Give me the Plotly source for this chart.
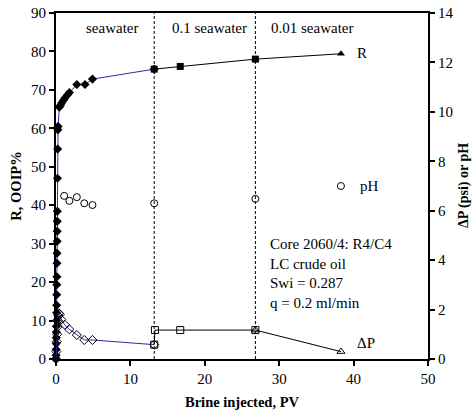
import plotly.graph_objects as go

# ---- data ----
# Recovery R (% OOIP), seawater flood
r_sw_x = [0, 0.01, 0.02, 0.03, 0.04, 0.05, 0.06, 0.07, 0.08, 0.09, 0.10, 0.11, 0.12,
          0.13, 0.14, 0.15, 0.16, 0.17, 0.18, 0.20, 0.22, 0.25, 0.28,
          0.45, 0.6, 0.76, 1.0, 1.2, 1.5, 1.8, 2.8, 3.9, 4.9, 13.2]
r_sw_y = [0, 1, 2.5, 4, 5.5, 7, 8.5, 10, 12, 14, 16.7, 19.3, 21.4,
          24.9, 27.5, 30.6, 33.2, 35.8, 38.4, 47.0, 54.6, 59.6, 60.5,
          65.5, 66.0, 66.6, 67.3, 67.9, 68.6, 69.3, 71.4, 71.4, 72.8, 75.4]
# Recovery, 0.1 seawater
r_01_x = [13.2, 16.7, 26.8]
r_01_y = [75.4, 76.1, 78.0]
# Recovery, 0.01 seawater
r_001_x = [26.8, 38.3]
r_001_y = [78.0, 79.4]

# pH
ph_x = [1.1, 1.8, 2.8, 3.8, 4.9, 13.2, 26.8, 38.3]
ph_y = [6.6, 6.4, 6.55, 6.3, 6.23, 6.3, 6.48, 7.0]

# Differential pressure (psi)
dp_sw_x = [0, 0.05, 0.1, 0.15, 0.2, 0.25, 0.3, 0.4, 0.5, 0.7, 1.2, 1.8, 2.8, 3.8, 4.9, 13.2]
dp_sw_y = [0, 0.3, 0.7, 1.0, 1.3, 1.55, 1.75, 1.85, 1.8, 1.6, 1.38, 1.2, 0.97, 0.77, 0.77, 0.58]
dp_01_x = [13.2, 13.3, 16.7, 26.8]
dp_01_y = [0.58, 1.17, 1.17, 1.17]
dp_001_x = [26.8, 38.3]
dp_001_y = [1.17, 0.3]

# brine switch boundaries and stage labels
switch_pv = [13.2, 26.8]
stage_labels = ["seawater", "0.1 seawater", "0.01 seawater"]
stage_label_x = [7.5, 20.6, 34.4]

x_ticks = [0, 10, 20, 30, 40, 50]
y_ticks = [0, 10, 20, 30, 40, 50, 60, 70, 80, 90]
y2_ticks = [0, 2, 4, 6, 8, 10, 12, 14]

info_lines = ["Core 2060/4: R4/C4", "LC crude oil", "Swi = 0.287", "q = 0.2 ml/min"]

FONT = "Liberation Serif, Times New Roman, serif"
BLUE = "#2a2ab0"
MS = 7

fig = go.Figure()

fig.add_trace(go.Scatter(x=r_sw_x, y=r_sw_y, mode="lines+markers",
                         line=dict(color=BLUE, width=1),
                         marker=dict(symbol="diamond", size=MS, color="black"),
                         cliponaxis=False, showlegend=False))
fig.add_trace(go.Scatter(x=r_01_x, y=r_01_y, mode="lines+markers",
                         line=dict(color="black", width=1),
                         marker=dict(symbol="square", size=MS, color="black"),
                         cliponaxis=False, showlegend=False))
fig.add_trace(go.Scatter(x=r_001_x, y=r_001_y, mode="lines+markers",
                         line=dict(color="black", width=1),
                         marker=dict(symbol="triangle-up", size=MS, color="black"),
                         cliponaxis=False, showlegend=False))

fig.add_trace(go.Scatter(x=ph_x, y=ph_y, mode="markers", yaxis="y2",
                         marker=dict(symbol="circle-open", size=MS, color="black",
                                     line=dict(width=1)),
                         cliponaxis=False, showlegend=False))

fig.add_trace(go.Scatter(x=dp_sw_x, y=dp_sw_y, mode="lines+markers", yaxis="y2",
                         line=dict(color=BLUE, width=1),
                         marker=dict(symbol="diamond-open", size=MS, color="black",
                                     line=dict(width=1)),
                         cliponaxis=False, showlegend=False))
fig.add_trace(go.Scatter(x=dp_01_x, y=dp_01_y, mode="lines+markers", yaxis="y2",
                         line=dict(color="black", width=1),
                         marker=dict(symbol="square-open", size=MS, color="black",
                                     line=dict(width=1)),
                         cliponaxis=False, showlegend=False))
fig.add_trace(go.Scatter(x=dp_001_x, y=dp_001_y, mode="lines+markers", yaxis="y2",
                         line=dict(color="black", width=1),
                         marker=dict(symbol="triangle-up-open", size=MS, color="black",
                                     line=dict(width=1)),
                         cliponaxis=False, showlegend=False))

shapes = []
for sx in switch_pv:
    shapes.append(dict(type="line", xref="x", yref="paper", x0=sx, x1=sx, y0=0, y1=1,
                       line=dict(color="black", width=1, dash="3px,2px")))

annotations = []
for lx, lt in zip(stage_label_x, stage_labels):
    annotations.append(dict(x=lx, y=86, xref="x", yref="y", text=lt, showarrow=False,
                            font=dict(family=FONT, size=15, color="black")))
annotations.append(dict(x=40.2, y=79.6, xref="x", yref="y", text="R", showarrow=False,
                        xanchor="left", font=dict(family=FONT, size=15, color="black")))
annotations.append(dict(x=40.6, y=7.0, xref="x", yref="y2", text="pH", showarrow=False,
                        xanchor="left", font=dict(family=FONT, size=15, color="black")))
annotations.append(dict(x=40.2, y=0.65, xref="x", yref="y2", text="ΔP", showarrow=False,
                        xanchor="left", font=dict(family=FONT, size=15, color="black")))
annotations.append(dict(x=28.5, y=32.5, xref="x", yref="y", text="<br>".join(info_lines),
                        showarrow=False, xanchor="left", yanchor="top", align="left",
                        font=dict(family=FONT, size=15, color="black")))
annotations.append(dict(x=1.0, xref="paper", xshift=46, y=0.5, yref="paper",
                        text="<b>ΔP (psi) or pH</b>", textangle=-90, showarrow=False,
                        font=dict(family=FONT, size=14, color="black")))

axis_common = dict(showgrid=False, zeroline=False, showline=True, linecolor="black",
                   linewidth=2, ticks="outside", ticklen=5, tickwidth=1.5,
                   tickcolor="black", automargin=False,
                   tickfont=dict(family=FONT, size=15, color="black"))

fig.update_layout(
    width=472, height=419,
    margin=dict(l=56, r=44, t=13, b=60, autoexpand=False),
    paper_bgcolor="white", plot_bgcolor="white",
    xaxis=dict(range=[0, 50], tickvals=x_ticks, mirror=True,
               title=dict(text="<b>Brine injected, PV</b>",
                          font=dict(family=FONT, size=14.5, color="black"), standoff=11),
               **axis_common),
    yaxis=dict(range=[0, 90], tickvals=y_ticks,
               title=dict(text="<b>R, OOIP%</b>",
                          font=dict(family=FONT, size=14.5, color="black"), standoff=6),
               **axis_common),
    yaxis2=dict(range=[0, 14], tickvals=y2_ticks, overlaying="y", side="right",
                **axis_common),
    shapes=shapes, annotations=annotations,
    showlegend=False,
)

fig.write_html("out.html", config={"displayModeBar": False},
               post_script="document.body.style.margin='0';")
